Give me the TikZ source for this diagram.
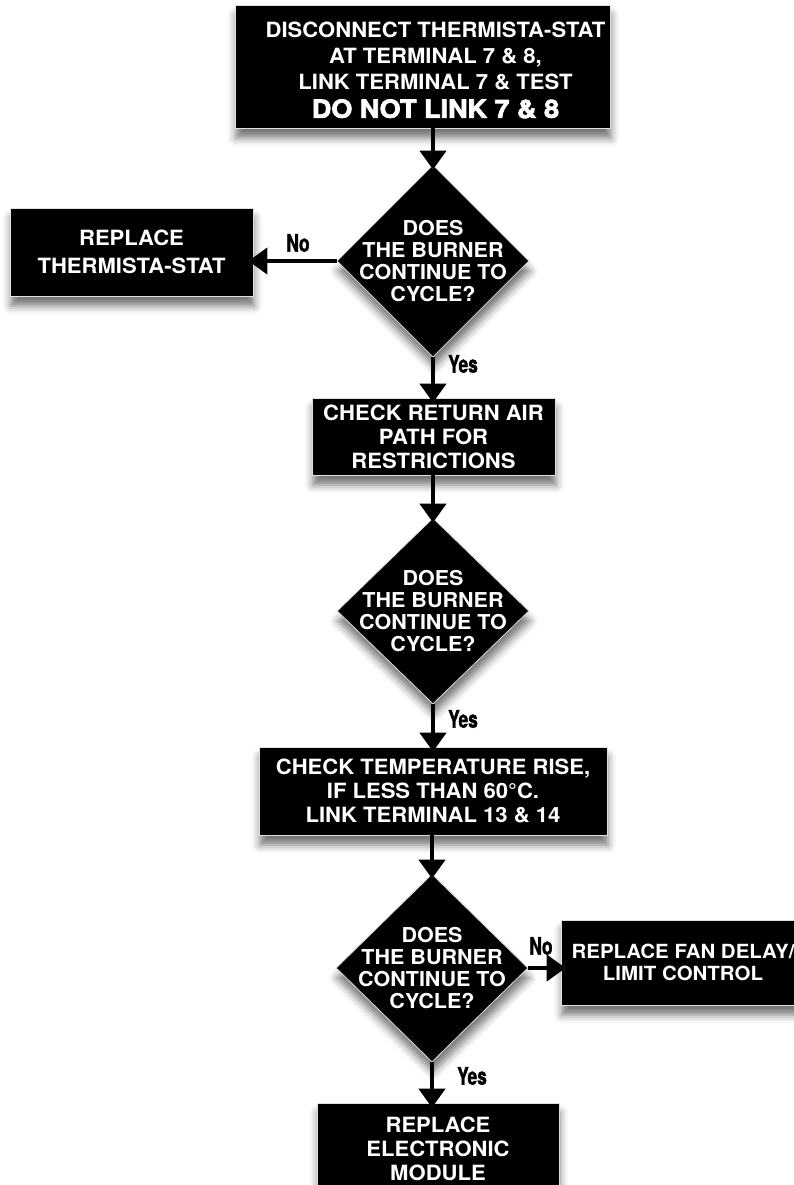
\documentclass[tikz,border=0pt]{standalone}
\usepackage{fontspec}
\setmainfont[FakeStretch=1.05]{TeX Gyre Heros}
\newfontfamily\heavyfont[FakeBold=3,FakeStretch=1.08]{TeX Gyre Heros Bold}
\newfontfamily\tagfont[FakeStretch=0.72,FakeBold=1.5]{TeX Gyre Heros Bold}
\usetikzlibrary{shapes.geometric}
\usetikzlibrary{arrows.meta}
\usetikzlibrary{shadows.blur}

\begin{document}
\begin{tikzpicture}[x=1pt, y=-1pt]
            \tikzstyle{action} = [rectangle, fill=black, draw=black!12, line width=0.8pt, text=white, align=center, inner sep=0pt, font=\bfseries\fontsize{21}{24}\selectfont, blur shadow={shadow xshift=1pt, shadow yshift=-10pt, shadow blur radius=8pt, shadow opacity=55}]
            \tikzstyle{question} = [diamond, aspect=1, fill=black, draw=black!12, line width=0.8pt, text=white, align=center, inner sep=-26pt, minimum width=192pt, font=\bfseries\fontsize{20.5}{22}\selectfont, blur shadow={shadow xshift=1pt, shadow yshift=-10pt, shadow blur radius=8pt, shadow opacity=55}]
            \tikzstyle{answer} = [font=\tagfont\fontsize{24}{24}\selectfont, inner sep=0pt]
            \tikzstyle{flow} = [line width=4.5pt, -{Triangle[width=26pt, length=19pt]}, shorten >=-5pt, preaction={draw=white, -{Triangle[width=31pt, length=22pt]}, shorten >=-8pt}]

            \useasboundingbox (0, 0) rectangle (793, 1185);

            \node[action, minimum width=375pt, minimum height=123pt] (disconnect) at (422.5, 66.5) {\hspace*{26pt}\begin{tabular}{@{}c@{}}\rule{0pt}{29pt}DISCONNECT THERMISTA-STAT\\[2pt]AT TERMINAL 7 \& 8,\\[2pt]LINK TERMINAL 7 \& TEST\\[3pt]{\heavyfont\fontsize{25}{26}\selectfont DO NOT LINK 7 \& 8}\end{tabular}};
            \node[question, minimum height=192pt] (cycle1) at (433, 261) {DOES\\THE BURNER\\CONTINUE TO\\CYCLE?};
            \node[action, minimum width=243pt, minimum height=88pt] (thermista) at (131.5, 252) {REPLACE\\[4pt]THERMISTA-STAT};
            \node[action, minimum width=243pt, minimum height=77pt] (returnair) at (433.5, 436.5) {CHECK RETURN AIR\\PATH FOR\\RESTRICTIONS};
            \node[question, minimum height=186pt] (cycle2) at (433, 611) {DOES\\THE BURNER\\CONTINUE TO\\CYCLE?};
            \node[action, minimum width=348pt, minimum height=88pt] (temprise) at (433, 791) {CHECK TEMPERATURE RISE,\\IF LESS THAN 60°C.\\LINK TERMINAL 13 \& 14};
            \node[question, minimum height=188pt] (cycle3) at (432, 968) {DOES\\THE BURNER\\CONTINUE TO\\CYCLE?};
            \node[action, minimum width=244pt, minimum height=85pt, font=\bfseries\fontsize{19.5}{22}\selectfont] (fandelay) at (683, 962.5) {REPLACE FAN DELAY/\\LIMIT CONTROL};
            \node[action, minimum width=242pt, minimum height=92pt] (module) at (438, 1149) {REPLACE\\ELECTRONIC\\MODULE};

            \node[answer] (no1) at (298, 243) {No};
            \node[answer] (yes1) at (463, 364) {Yes};
            \node[answer] (yes2) at (463, 719) {Yes};
            \node[answer] (no3) at (541, 946) {No};
            \node[answer] (yes3) at (472, 1076) {Yes};

            \draw[flow] (disconnect.south -| cycle1.north) -- (cycle1.north);
            \draw[flow] (cycle1.west) -- (cycle1.west -| thermista.east);
            \draw[flow] (cycle1.south) -- (returnair.north -| cycle1.south);
            \draw[flow] (returnair.south -| cycle2.north) -- (cycle2.north);
            \draw[flow] (cycle2.south) -- (temprise.north -| cycle2.south);
            \draw[flow] (temprise.south -| cycle3.north) -- (cycle3.north);
            \draw[flow] (cycle3.east) -- (cycle3.east -| fandelay.west);
            \draw[flow] (cycle3.south) -- (module.north -| cycle3.south);
        \end{tikzpicture}
\end{document}
